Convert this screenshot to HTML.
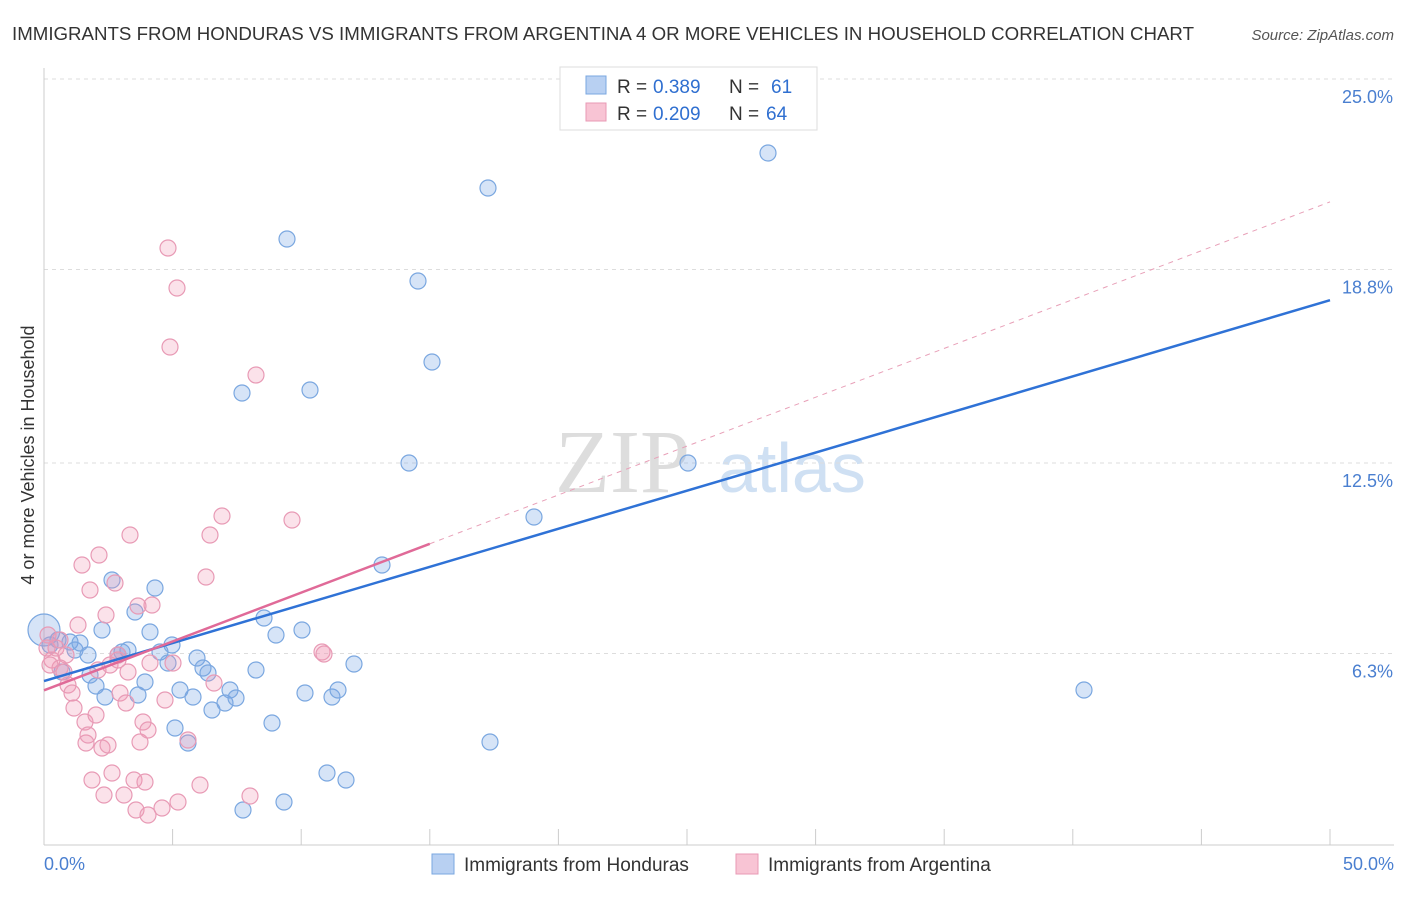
<!DOCTYPE html>
<html><head><meta charset="utf-8"><style>
body{margin:0;background:#fff;font-family:"Liberation Sans",sans-serif}
</style></head><body>
<svg width="1406" height="892" xmlns="http://www.w3.org/2000/svg" font-family="Liberation Sans, sans-serif">
<text x="12" y="40" font-size="18" fill="#333" textLength="1182" lengthAdjust="spacingAndGlyphs">IMMIGRANTS FROM HONDURAS VS IMMIGRANTS FROM ARGENTINA 4 OR MORE VEHICLES IN HOUSEHOLD CORRELATION CHART</text>
<text x="1394" y="40" font-size="15" fill="#555" font-style="italic" text-anchor="end">Source: ZipAtlas.com</text>
<text x="555" y="492" font-size="90" fill="#ddd" font-family="Liberation Serif, serif">ZIP</text>
<text x="718" y="492" font-size="70" fill="#cfe0f3">atlas</text>
<g id="grid"></g>
<g id="axes"></g>
<g id="pts"></g>
<g id="lines"></g>
<text transform="translate(34,455) rotate(-90)" font-size="18" fill="#333" text-anchor="middle">4 or more Vehicles in Household</text>
<text x="44" y="870" font-size="18" fill="#4a7fd0">0.0%</text>
<text x="1394" y="870" font-size="18" fill="#4a7fd0" text-anchor="end">50.0%</text>
<g>
<rect x="560" y="67" width="257" height="63" fill="#fff" stroke="#ddd"/>
<rect x="586" y="76" width="20" height="18" fill="#b8d0f2" stroke="#7aa7e0"/>
<text x="617" y="93" font-size="19" fill="#333">R =</text>
<text x="653" y="93" font-size="19" fill="#2f6fd0">0.389</text>
<text x="729" y="93" font-size="19" fill="#333">N =</text>
<text x="771" y="93" font-size="19" fill="#2f6fd0">61</text>
<rect x="586" y="103" width="20" height="18" fill="#f8c4d4" stroke="#e89ab5"/>
<text x="617" y="120" font-size="19" fill="#333">R =</text>
<text x="653" y="120" font-size="19" fill="#2f6fd0">0.209</text>
<text x="729" y="120" font-size="19" fill="#333">N =</text>
<text x="766" y="120" font-size="19" fill="#2f6fd0">64</text>
</g>
<g>
<rect x="432" y="854" width="22" height="20" fill="#b8d0f2" stroke="#7aa7e0"/>
<text x="464" y="871" font-size="19" fill="#333">Immigrants from Honduras</text>
<rect x="736" y="854" width="22" height="20" fill="#f8c4d4" stroke="#e89ab5"/>
<text x="768" y="871" font-size="19" fill="#333">Immigrants from Argentina</text>
</g>
</svg>
<script>
const yTicks=[6.3,12.5,18.8,25.0];
const yTickLabels=["6.3%","12.5%","18.8%","25.0%"];
const xTicks=[0,5,10,15,20,25,30,35,40,45,50];
const bluePx=[[44,630],[50,645],[58,640],[70,642],[75,650],[80,643],[88,655],[90,675],[96,686],[102,630],[105,697],[112,580],[118,655],[122,652],[128,650],[135,612],[138,695],[145,682],[150,632],[155,588],[160,652],[168,663],[172,645],[180,690],[175,728],[188,743],[193,697],[197,658],[203,668],[208,673],[212,710],[225,703],[230,690],[236,698],[242,393],[243,810],[256,670],[264,618],[272,723],[276,635],[284,802],[287,239],[302,630],[305,693],[310,390],[327,773],[332,697],[338,690],[346,780],[354,664],[382,565],[409,463],[418,281],[432,362],[488,188],[490,742],[534,517],[688,463],[768,153],[1084,690],[62,672]];
const pinkPx=[[48,635],[52,660],[56,648],[60,668],[64,672],[68,685],[72,693],[74,708],[78,625],[82,565],[85,722],[86,743],[88,735],[90,590],[92,780],[96,715],[98,670],[99,555],[102,748],[104,795],[106,615],[110,665],[112,773],[115,583],[118,660],[120,693],[124,795],[126,703],[128,672],[130,535],[134,780],[136,810],[140,742],[143,722],[145,782],[148,730],[150,663],[152,605],[148,815],[162,808],[165,700],[168,248],[170,347],[173,663],[177,288],[178,802],[188,740],[200,785],[206,577],[210,535],[214,683],[222,516],[250,796],[256,375],[292,520],[322,652],[324,654],[60,640],[50,665],[66,655],[108,745],[118,655],[138,606],[47,648]];
const toX=p=>(p-44)/25.72, toY=p=>(847-p)/30.72;
const blueX=bluePx.map(d=>toX(d[0])), blueY=bluePx.map(d=>toY(d[1]));
const pinkX=pinkPx.map(d=>toX(d[0])), pinkY=pinkPx.map(d=>toY(d[1]));
const blueFit=[5.4,17.8];
const pinkFit=[5.1,21.0];
const sx=v=>44+v*25.72, sy=v=>847-v*30.72;
const NS="http://www.w3.org/2000/svg";
function mk(t,a,parent){const e=document.createElementNS(NS,t);for(const k in a)e.setAttribute(k,a[k]);document.getElementById(parent).appendChild(e);return e;}
yTicks.forEach((v,i)=>{
 const l=mk('line',{x1:44,x2:1394,y1:sy(v),y2:sy(v),stroke:'#ddd','stroke-dasharray':'4,4'},'grid');
 
 
 const t=mk('text',{x:1393,y:sy(v)+24,'font-size':18,fill:'#4a7fd0','text-anchor':'end'},'grid');
 t.textContent=yTickLabels[i];
 
 
});
const ax=mk('line',{x1:44,x2:44,y1:68,y2:845,stroke:'#ccc'},'axes');


const bx=mk('line',{x1:44,x2:1394,y1:845,y2:845,stroke:'#ccc'},'axes');


xTicks.forEach(v=>{
 const t=mk('line',{x1:sx(v),x2:sx(v),y1:829,y2:845,stroke:'#ccc'},'axes');
 
 
});
blueX.forEach((x,i)=>{
 const c=mk('circle',{cx:sx(x),cy:sy(blueY[i]),r:i===0?16:8,fill:'rgba(120,165,230,0.3)',stroke:'#7aa7e0','stroke-width':1.2},'pts');
 
 
});
pinkX.forEach((x,i)=>{
 const c=mk('circle',{cx:sx(x),cy:sy(pinkY[i]),r:8,fill:'rgba(240,150,180,0.28)',stroke:'#e89ab5','stroke-width':1.2},'pts');
 
 
});
const py=x=>pinkFit[0]+(pinkFit[1]-pinkFit[0])*x/50;
const pd=mk('line',{x1:sx(15),y1:sy(py(15)),x2:sx(50),y2:sy(py(50)),stroke:'#e8a0b8','stroke-dasharray':'5,5'},'lines');


const bl=mk('line',{x1:sx(0),y1:sy(blueFit[0]),x2:sx(50),y2:sy(blueFit[1]),stroke:'#2f72d6','stroke-width':2.5},'lines');


const pl=mk('line',{x1:sx(0),y1:sy(py(0)),x2:sx(15),y2:sy(py(15)),stroke:'#e06a98','stroke-width':2.5},'lines');


</script>
</body></html>
